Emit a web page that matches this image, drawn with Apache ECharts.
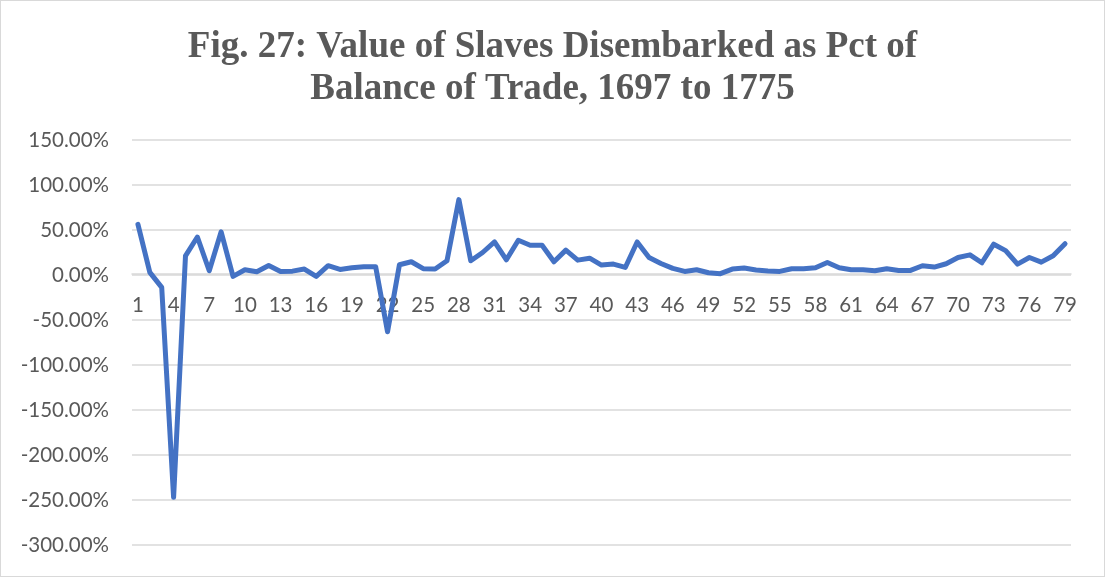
<!DOCTYPE html>
<html style="height: 100%">
<head>
    <meta charset="utf-8">
    <script src="https://cdn.jsdelivr.net/npm/echarts@6/dist/echarts.min.js"></script>
</head>
<body style="height: 100%; margin: 0">
<div id="container" style="width: 1105px; height: 577px; box-sizing: border-box; border: 1px solid #d9d9d9"></div>

<script type="text/javascript">
    // percent values, periods 1..79 (1697 to 1775)
    var periods = [];
    for (var p = 1; p <= 79; p++) periods.push(String(p));

    var pctValues = [
        56.2, 2.9, -13.7, -247, 21.3, 42.2, 4.7, 48, -1.5, 5.8,
        3.6, 10.6, 4, 4.3, 6.6, -1.5, 10.3, 6.2, 8, 9.2,
        9.2, -63, 11.4, 14.7, 7, 6.6, 15.8, 83.8, 15.8, 25,
        36.7, 16.9, 38.6, 33, 33, 14.7, 27.6, 16.5, 18.7, 11,
        12.1, 8.4, 36.7, 19.4, 12.8, 7.3, 4, 5.8, 2.5, 1.5,
        6.6, 7.7, 5.5, 4.4, 4, 7, 7, 8, 13.9, 8,
        5.8, 5.8, 4.7, 7, 5.1, 5.1, 10.3, 8.8, 12.5, 19.4,
        22.4, 13.6, 34.2, 27.1, 12.1, 19.4, 14.3, 21.3, 34.8
    ];

    var yMin = -300, yMax = 150, yStep = 50;

    var gridTop = 139, gridBottom = 31, chartH = 577;
    var plotH = chartH - gridTop - gridBottom;
    // onZero doesn't take here, so lift the category axis up to the 0 line
    var zeroLift = -plotH * (0 - yMin) / (yMax - yMin);

    var dom = document.getElementById("container");
    var myChart = echarts.init(dom);
    var option = {
        animation: false,
        title: {
            text: 'Fig. 27: Value of Slaves Disembarked as Pct of\nBalance of Trade, 1697 to 1775',
            left: 'center',
            top: 20,
            textStyle: {
                fontFamily: 'Liberation Serif',
                fontWeight: 'bold',
                fontSize: 37,
                lineHeight: 42,
                color: '#595959'
            }
        },
        grid: {
            left: 131,
            right: 33,
            top: gridTop,
            bottom: gridBottom,
            outerBoundsMode: 'none',
            containLabel: false
        },
        xAxis: {
            type: 'category',
            data: periods,
            boundaryGap: true,
            offset: zeroLift,
            axisLine: {show: true, onZero: false, lineStyle: {color: '#d9d9d9', width: 1.5}},
            axisTick: {show: false},
            axisLabel: {
                interval: 2,
                margin: 21,
                fontFamily: 'Lato',
                fontSize: 20.5,
                color: '#595959'
            }
        },
        yAxis: {
            type: 'value',
            min: yMin,
            max: yMax,
            interval: yStep,
            axisLine: {show: false},
            axisTick: {show: false},
            splitLine: {lineStyle: {color: '#d9d9d9', width: 1.5}},
            axisLabel: {
                margin: 23,
                fontFamily: 'Lato',
                fontSize: 20.5,
                color: '#595959',
                formatter: function (v) { return v.toFixed(2) + '%'; }
            }
        },
        series: [{
            type: 'line',
            data: pctValues,
            showSymbol: false,
            lineStyle: {color: '#4472C4', width: 5, cap: 'round', join: 'round'},
            itemStyle: {color: '#4472C4'}
        }]
    };
    myChart.setOption(option, true);
</script>
</body>
</html>
